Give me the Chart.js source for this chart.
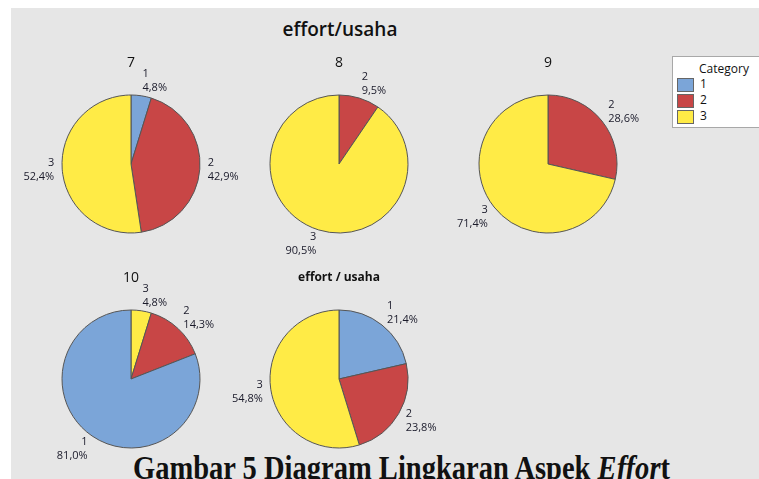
<!DOCTYPE html>
<html>
<head>
<meta charset="utf-8">
<script src="https://cdn.jsdelivr.net/npm/chart.js@4.4.1/dist/chart.umd.min.js"></script>
<style>
  html, body { margin: 0; padding: 0; background: #fff; }
  body { width: 759px; height: 479px; position: relative; overflow: hidden; font-family: "Open Sans", sans-serif; }
  #panel { position: absolute; left: 11px; top: 8px; right: 0; bottom: 0; background: #e6e6e6; }
  #mainTitle { position: absolute; left: 240px; width: 200px; top: 16px; text-align: center; font-size: 19px; font-weight: 600; color: #111; }
  .pie { position: absolute; }
  #legend { position: absolute; left: 672px; top: 56px; width: 100px; height: 70px; background: #fff; border: 1px solid #a8a8a8; }
  #legend .ttl { position: absolute; left: 26px; top: 3px; font-size: 12px; color: #111; }
  #legend .sw { position: absolute; left: 4px; width: 15px; height: 12px; border: 1px solid #666; }
  #legend .lb { position: absolute; left: 27px; font-size: 12px; color: #111; }
  #caption { position: absolute; left: 133px; top: 452px; font-family: "Liberation Serif", serif; font-weight: bold; font-size: 33px; line-height: 1; white-space: nowrap; color: #111; transform-origin: 0 0; }
</style>
</head>
<body>
<div id="panel"></div>
<div id="mainTitle">effort/usaha</div>
<div id="legend"></div>
<div id="caption">Gambar 5 Diagram Lingkaran Aspek <i>Effor</i>t</div>
<script>
const categories = ["1", "2", "3"];
const colors = ["#7ba5d8", "#c84646", "#ffeb46"];
const pieTitles = ["7", "8", "9", "10", "effort / usaha"];
// counts per category (1, 2, 3)
const pie7 = [1, 9, 11];
const pie8 = [0, 2, 19];
const pie9 = [0, 6, 15];
const pie10 = [17, 3, 1];
const pieAll = [18, 20, 46];

const pies = [pie7, pie8, pie9, pie10, pieAll];
const centers = [[130.5, 164], [339.3, 163.5], [548.3, 163.5], [130.7, 378.5], [339.3, 379]];
const R = 69;
const W = 280, H = 220;

const labelPlugin = {
  id: "pieLabels",
  afterDraw(chart, args, opts) {
    const ctx = chart.ctx;
    const meta = chart.getDatasetMeta(0);
    const data = chart.data.datasets[0].data;
    const total = data.reduce((a, b) => a + b, 0);
    ctx.save();
    ctx.fillStyle = "#1a1a2a";
    ctx.textBaseline = "middle";
    ctx.font = '11px "Open Sans"';
    let cx = 0, cy = 0;
    meta.data.forEach((arc, i) => {
      const p = arc.getProps(["x", "y", "startAngle", "endAngle", "outerRadius"], true);
      cx = p.x; cy = p.y;
      const mid = (p.startAngle + p.endAngle) / 2;
      const r = p.outerRadius + 8;
      const ax = p.x + Math.cos(mid) * r;
      const ay = p.y + Math.sin(mid) * r;
      const cosT = -Math.sin(mid);
      const c = ay - 7 * cosT;
      ctx.textAlign = Math.cos(mid) >= 0 ? "left" : "right";
      const pct = (data[i] / total * 100).toFixed(1).replace(".", ",") + "%";
      ctx.fillText(chart.data.labels[i], ax, c - 7);
      ctx.fillText(pct, ax, c + 7);
    });
    ctx.textAlign = "center";
    ctx.fillStyle = "#111";
    ctx.font = opts.bold ? 'bold 12px "Open Sans"' : '14px "Open Sans"';
    ctx.fillText(opts.title, cx, cy - 101);
    ctx.restore();
  }
};

pies.forEach((vals, k) => {
  // Minitab draws slices clockwise from the top in ascending order
  const idx = categories.map((c, i) => i).filter(i => vals[i] > 0).sort((a, b) => vals[a] - vals[b]);
  const canvas = document.createElement("canvas");
  canvas.className = "pie";
  canvas.width = W;
  canvas.height = H;
  canvas.style.left = (centers[k][0] - W / 2) + "px";
  canvas.style.top = (centers[k][1] - H / 2) + "px";
  document.body.appendChild(canvas);
  const padX = W / 2 - R - 0.5, padY = H / 2 - R - 0.5;
  new Chart(canvas.getContext("2d"), {
    type: "pie",
    data: {
      labels: idx.map(i => categories[i]),
      datasets: [{
        data: idx.map(i => vals[i]),
        backgroundColor: idx.map(i => colors[i]),
        borderColor: "#555",
        borderWidth: 1
      }]
    },
    options: {
      responsive: false,
      animation: false,
      layout: { padding: { left: padX, right: padX, top: padY, bottom: padY } },
      plugins: {
        legend: { display: false },
        tooltip: { enabled: false },
        pieLabels: { title: pieTitles[k], bold: k === 4 }
      }
    },
    plugins: [labelPlugin]
  });
});

// legend
const legend = document.getElementById("legend");
legend.innerHTML = '<div class="ttl">Category</div>';
categories.forEach((c, i) => {
  const top = 21 + i * 16;
  legend.innerHTML += `<div class="sw" style="top:${top}px;background:${colors[i]}"></div>` +
    `<div class="lb" style="top:${top - 3}px">${c}</div>`;
});

// caption width in the reference is about 537px
const cap = document.getElementById("caption");
const w = cap.getBoundingClientRect().width;
cap.style.transform = `scaleX(${537 / w})`;
</script>
</body>
</html>
